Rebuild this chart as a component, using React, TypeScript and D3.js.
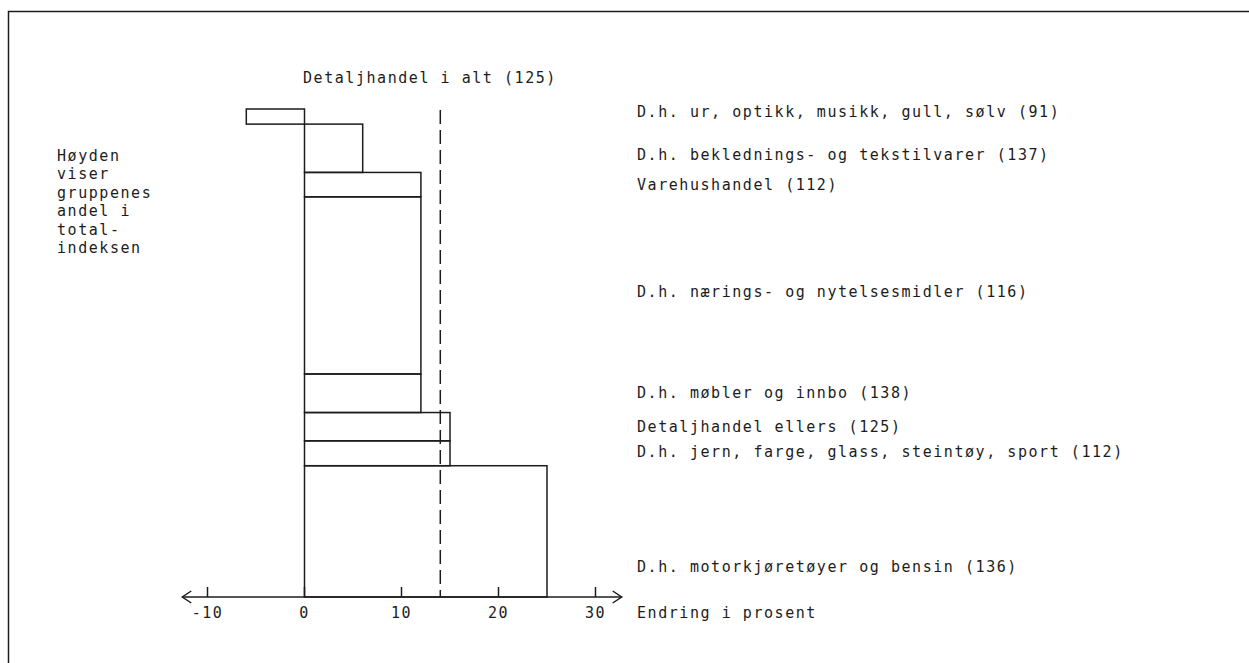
import React, { useEffect, useRef } from 'react';
import * as d3 from 'd3';

// groups from top to bottom
const groups = [
  'D.h. ur, optikk, musikk, gull, sølv (91)',
  'D.h. beklednings- og tekstilvarer (137)',
  'Varehushandel (112)',
  'D.h. nærings- og nytelsesmidler (116)',
  'D.h. møbler og innbo (138)',
  'Detaljhandel ellers (125)',
  'D.h. jern, farge, glass, steintøy, sport (112)',
  'D.h. motorkjøretøyer og bensin (136)',
];
// endring i prosent
const changes = [-6, 6, 12, 12, 12, 15, 15, 25];
// andel i totalindeksen (prosent)
const shares = [3.1, 9.9, 5.0, 36.3, 7.9, 5.8, 5.1, 26.9];

const totalLabel = 'Detaljhandel i alt (125)';
const totalChange = 14;
const xTicks = [-10, 0, 10, 20, 30];
const xTitle = 'Endring i prosent';
const noteLines = ['Høyden', 'viser', 'gruppenes', 'andel i', 'total-', 'indeksen'];

const App: React.FC = () => {
  const svgRef = useRef<SVGSVGElement | null>(null);

  useEffect(() => {
    const width = 1249;
    const height = 663;
    const ink = '#1c1c1c';
    const font = '"DejaVu Sans Mono", "Liberation Mono", monospace';
    const top = 109;
    const axisY = 597;
    const labelX = 637;
    // small vertical nudges of the right-hand labels
    const labelNudge = [-5, 7, 0, 7, 0, 0, -1, 36];

    const svg = d3.select(svgRef.current)
      .attr('width', width)
      .attr('height', height);
    svg.selectAll('*').remove();

    // frame
    svg.append('rect')
      .attr('x', 8.5).attr('y', 11.5)
      .attr('width', 1400).attr('height', 900)
      .attr('fill', 'none').attr('stroke', ink).attr('stroke-width', 1.5);

    const x = d3.scaleLinear().domain([-10, 30]).range([207.5, 595.5]);
    const y = d3.scaleLinear().domain([0, d3.sum(shares)]).range([top, axisY]);

    const cum = shares.map((_, i) => d3.sum(shares.slice(0, i)));
    const bars = groups.map((g, i) => ({
      label: g,
      change: changes[i],
      y0: y(cum[i]),
      y1: y(cum[i] + shares[i]),
    }));

    const g = svg.append('g')
      .attr('fill', 'none')
      .attr('stroke', ink)
      .attr('stroke-width', 1.5);

    g.selectAll('rect.bar')
      .data(bars)
      .enter()
      .append('rect')
      .attr('class', 'bar')
      .attr('x', d => Math.min(x(0), x(d.change)))
      .attr('y', d => d.y0)
      .attr('width', d => Math.abs(x(d.change) - x(0)))
      .attr('height', d => d.y1 - d.y0);

    // dashed total line
    g.append('line')
      .attr('x1', x(totalChange)).attr('x2', x(totalChange))
      .attr('y1', 110).attr('y2', axisY)
      .attr('stroke-dasharray', '14,6');

    // axis with arrows
    const xl = x(-12.6);
    const xr = x(32.7);
    g.append('line').attr('x1', xl).attr('x2', xr).attr('y1', axisY).attr('y2', axisY);
    g.append('path').attr('d', `M${xl + 9},${axisY - 6}L${xl},${axisY}L${xl + 9},${axisY + 6}`);
    g.append('path').attr('d', `M${xr - 9},${axisY - 6}L${xr},${axisY}L${xr - 9},${axisY + 6}`);

    g.selectAll('line.tick')
      .data(xTicks)
      .enter()
      .append('line')
      .attr('class', 'tick')
      .attr('x1', d => x(d)).attr('x2', d => x(d))
      .attr('y1', axisY - 10).attr('y2', axisY);

    const text = svg.append('g')
      .attr('fill', ink)
      .style('font-family', font)
      .style('font-size', '15px')
      .style('letter-spacing', '1.55px');

    text.selectAll('text.tick')
      .data(xTicks)
      .enter()
      .append('text')
      .attr('class', 'tick')
      .attr('x', d => x(d))
      .attr('y', axisY + 21)
      .attr('text-anchor', 'middle')
      .text(d => String(d));

    text.append('text')
      .attr('x', labelX).attr('y', axisY + 21)
      .text(xTitle);

    text.append('text')
      .attr('x', 303).attr('y', 83)
      .text(totalLabel);

    text.selectAll('text.group')
      .data(bars)
      .enter()
      .append('text')
      .attr('class', 'group')
      .attr('x', labelX)
      .attr('y', (d, i) => (d.y0 + d.y1) / 2 + 5 + labelNudge[i])
      .text(d => d.label);

    text.selectAll('text.note')
      .data(noteLines)
      .enter()
      .append('text')
      .attr('class', 'note')
      .attr('x', 57)
      .attr('y', (_, i) => 161 + i * 18.4)
      .text(d => d);
  }, []);

  return (
    <svg
      ref={svgRef}
      style={{ position: 'absolute', left: 0, top: 0, background: '#fff' }}
    ></svg>
  );
};

export default App;
